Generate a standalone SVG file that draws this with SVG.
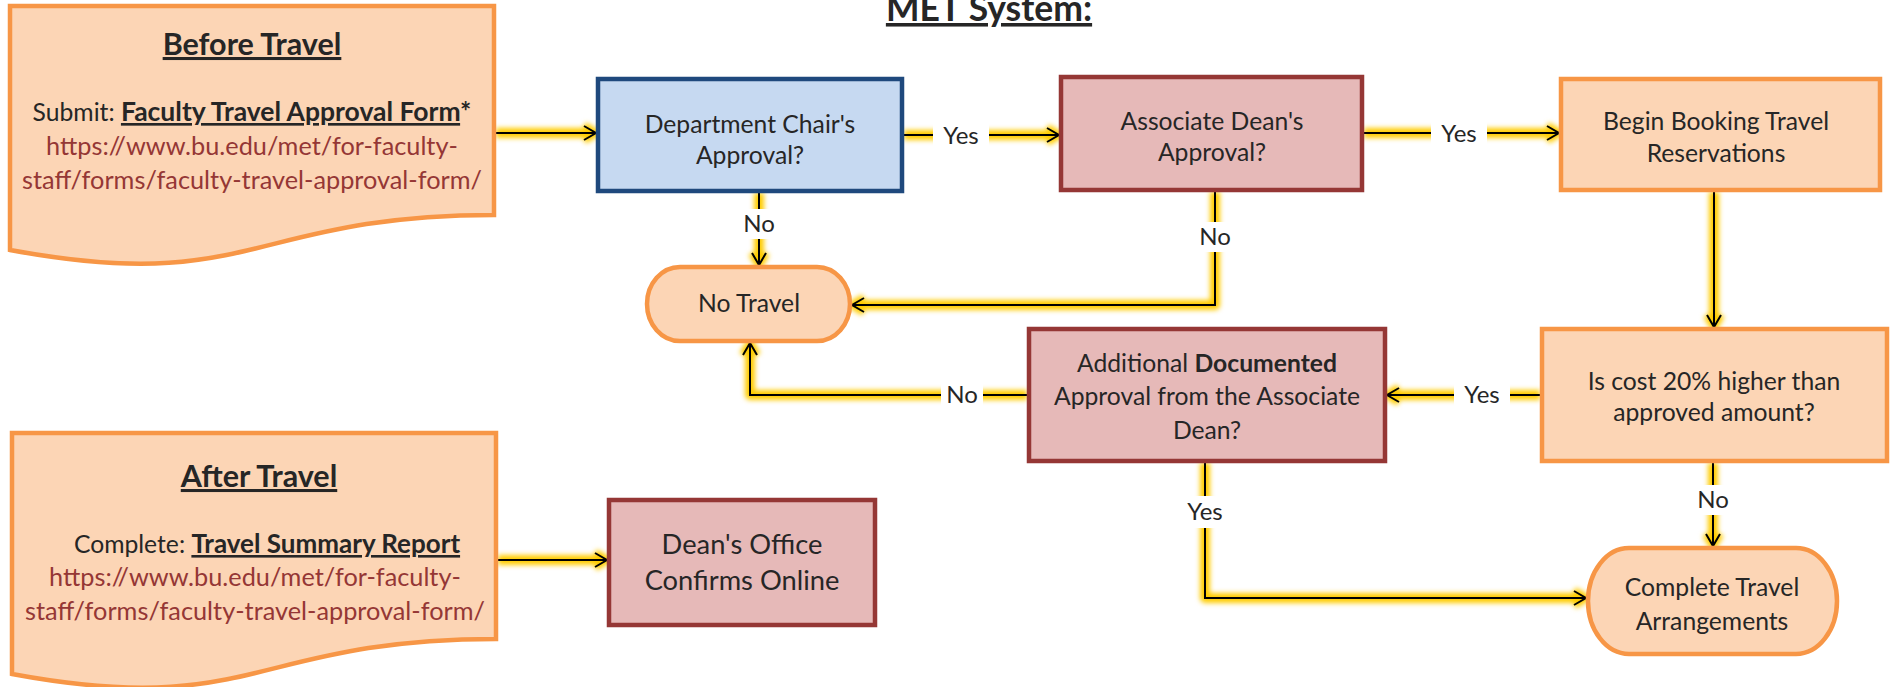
<svg xmlns="http://www.w3.org/2000/svg" width="1895" height="687" viewBox="0 0 1895 687">
<style>
text{font-family:Lato,"Liberation Sans",sans-serif;fill:#262626;text-anchor:middle}
.t{font-size:24.7px}
.url{font-size:25.3px;fill:#953735}
.lb{font-size:24px}
.big{font-size:27.3px}
.h{font-size:30.5px;font-weight:bold;text-decoration:underline}
.b{font-weight:bold}
.u{text-decoration:underline}
.orange{fill:#FCD5B5;stroke:#F79646;stroke-width:4.5}
.blue{fill:#C6D9F1;stroke:#1F497D;stroke-width:4.5}
.pink{fill:#E6B9B8;stroke:#953735;stroke-width:4.5}
.glow{fill:none;stroke:#FFCC00;stroke-width:10;stroke-linejoin:round;marker-end:url(#ag)}
.line{fill:none;stroke:#000;stroke-width:2;marker-end:url(#ah)}
.lbl{fill:#fff}
</style>
<defs>
<filter id="blur" filterUnits="userSpaceOnUse" x="0" y="0" width="1895" height="687"><feGaussianBlur stdDeviation="2.4"/></filter>
<marker id="ah" markerUnits="userSpaceOnUse" markerWidth="16" markerHeight="18" viewBox="0 0 16 18" refX="14" refY="9" orient="auto"><path d="M2,2 L14,9 L2,16" fill="none" stroke="#000" stroke-width="2"/></marker>
<marker id="ag" markerUnits="userSpaceOnUse" markerWidth="26" markerHeight="28" viewBox="-5 -5 26 28" refX="14" refY="9" orient="auto"><path d="M2,2 L14,9 L2,16" fill="none" stroke="#FFCC00" stroke-width="8" stroke-linejoin="round"/></marker>
</defs>

<text x="989" y="21" style="font-size:35.5px;font-weight:bold;text-decoration:underline">MET System:</text>

<g id="connectors">
<g filter="url(#blur)">
<path class="glow" d="M496,133 H596"/>
<path class="glow" d="M904,135 H1059"/>
<path class="glow" d="M1364,133 H1559"/>
<path class="glow" d="M759,193 V265"/>
<path class="glow" d="M1215,192 V305 H852"/>
<path class="glow" d="M1714,192 V327"/>
<path class="glow" d="M1540,395 H1387"/>
<path class="glow" d="M1027,395 H750 V343"/>
<path class="glow" d="M1713,463 V546"/>
<path class="glow" d="M1205,463 V598 H1586"/>
<path class="glow" d="M498,560 H607"/>
</g>
<path class="line" d="M496,133 H596"/>
<path class="line" d="M904,135 H1059"/>
<path class="line" d="M1364,133 H1559"/>
<path class="line" d="M759,193 V265"/>
<path class="line" d="M1215,192 V305 H852"/>
<path class="line" d="M1714,192 V327"/>
<path class="line" d="M1540,395 H1387"/>
<path class="line" d="M1027,395 H750 V343"/>
<path class="line" d="M1713,463 V546"/>
<path class="line" d="M1205,463 V598 H1586"/>
<path class="line" d="M498,560 H607"/>
<g id="labels">
<rect class="lbl" x="933" y="119" width="56" height="32"/><text class="lb" x="961" y="144">Yes</text>
<rect class="lbl" x="1431" y="117" width="56" height="32"/><text class="lb" x="1459" y="142">Yes</text>
<rect class="lbl" x="740" y="209" width="38" height="30"/><text class="lb" x="759" y="232">No</text>
<rect class="lbl" x="1196" y="222" width="38" height="30"/><text class="lb" x="1215" y="245">No</text>
<rect class="lbl" x="1454" y="379" width="56" height="32"/><text class="lb" x="1482" y="403">Yes</text>
<rect class="lbl" x="941" y="380" width="42" height="30"/><text class="lb" x="962" y="403">No</text>
<rect class="lbl" x="1694" y="485" width="38" height="30"/><text class="lb" x="1713" y="508">No</text>
<rect class="lbl" x="1180" y="496" width="50" height="32"/><text class="lb" x="1205" y="520">Yes</text>
</g>
</g>

<g id="before-travel">
<path class="orange" d="M10,6 H494 V215 C252,215 252,295 10,250 Z"/>
<text class="h" x="252" y="55">Before Travel</text>
<text class="t" x="252" y="121">Submit: <tspan class="b u" style="font-size:26.5px">Faculty Travel Approval Form</tspan><tspan class="b" style="font-size:26.5px">*</tspan></text>
<text class="url" x="252" y="155">https://www.bu.edu/met/for-faculty-</text>
<text class="url" x="252" y="189">staff/forms/faculty-travel-approval-form/</text>
</g>

<g id="dept-chair">
<rect class="blue" x="598" y="79" width="304" height="112"/>
<text class="t" x="750" y="133">Department Chair's</text>
<text class="t" x="750" y="164">Approval?</text>
</g>

<g id="assoc-dean">
<rect class="pink" x="1061" y="77" width="301" height="113"/>
<text class="t" x="1212" y="130">Associate Dean's</text>
<text class="t" x="1212" y="161">Approval?</text>
</g>

<g id="begin-booking">
<rect class="orange" x="1561" y="79" width="319" height="111"/>
<text class="t" x="1716" y="130">Begin Booking Travel</text>
<text class="t" x="1716" y="162">Reservations</text>
</g>

<g id="no-travel">
<rect class="orange" x="647" y="267" width="203" height="74" rx="33" ry="37"/>
<text class="t" x="749" y="312">No Travel</text>
</g>

<g id="additional-approval">
<rect class="pink" x="1029" y="329" width="356" height="132"/>
<text class="t" x="1207" y="372">Additional <tspan class="b">Documented</tspan></text>
<text class="t" x="1207" y="405">Approval from the Associate</text>
<text class="t" x="1207" y="439">Dean?</text>
</g>

<g id="is-cost">
<rect class="orange" x="1542" y="329" width="345" height="132"/>
<text class="t" x="1714" y="390">Is cost 20% higher than</text>
<text class="t" x="1714" y="421">approved amount?</text>
</g>

<g id="complete-travel">
<rect class="orange" x="1588" y="548" width="249" height="106" rx="41" ry="53"/>
<text class="t" x="1712" y="596">Complete Travel</text>
<text class="t" x="1712" y="630">Arrangements</text>
</g>

<g id="after-travel">
<path class="orange" d="M12,433 H496 V639 C254,639 254,719 12,674 Z"/>
<text class="h" x="259" y="487">After Travel</text>
<text class="t" x="267" y="553">Complete: <tspan class="b u" style="font-size:26px">Travel Summary Report</tspan></text>
<text class="url" x="255" y="586">https://www.bu.edu/met/for-faculty-</text>
<text class="url" x="255" y="620">staff/forms/faculty-travel-approval-form/</text>
</g>

<g id="deans-office">
<rect class="pink" x="609" y="500" width="266" height="125"/>
<text class="big" x="742" y="554">Dean's Office</text>
<text class="big" x="742" y="590">Confirms Online</text>
</g>
</svg>
